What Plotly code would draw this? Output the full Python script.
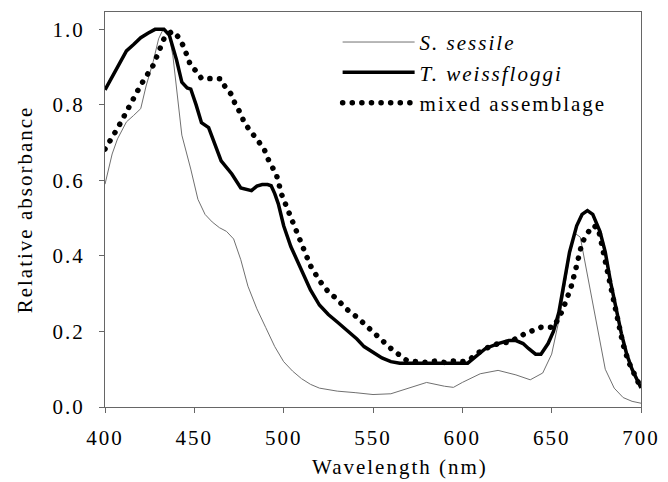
import plotly.graph_objects as go

# ── Data ──────────────────────────────────────────────────────────────────────

sessile_nm = [400, 404, 407, 412, 416, 420, 423, 427, 430, 432, 434, 436, 438, 440,
              443, 448, 452, 456, 460, 464, 468, 472, 476, 480, 485, 490, 495, 500,
              505, 510, 515, 520, 530, 540, 550, 560, 570, 580, 590, 595, 600, 610,
              620, 630, 638, 645, 650, 655, 660, 663, 666, 670, 675, 680, 685, 690,
              695, 700]
sessile_abs = [0.59, 0.67, 0.71, 0.755, 0.772, 0.79, 0.85, 0.915, 0.975, 0.995, 1.0, 0.98,
               0.93, 0.84, 0.72, 0.63, 0.55, 0.51, 0.49, 0.475, 0.465, 0.445, 0.39,
               0.32, 0.26, 0.21, 0.16, 0.12, 0.095, 0.075, 0.06, 0.05, 0.042, 0.038,
               0.033, 0.035, 0.05, 0.065, 0.055, 0.052, 0.065, 0.088, 0.097, 0.085,
               0.072, 0.09, 0.14, 0.25, 0.40, 0.46, 0.45, 0.35, 0.22, 0.10, 0.05,
               0.025, 0.015, 0.01]

weiss_nm = [400, 404, 408, 412, 416, 420, 424, 428, 433, 436, 440, 443, 446, 448, 451,
            454, 458, 462, 465, 471, 476, 482, 485, 488, 491, 493, 495, 497, 500, 504,
            510, 515, 520, 525, 530, 535, 541, 545, 550, 555, 560, 565, 603, 608, 613,
            620, 626, 630, 634, 637, 641, 644, 648, 651, 654, 657, 660, 664, 667, 670,
            673, 677, 680, 683, 686, 689, 692, 695, 698, 700]
weiss_abs = [0.84, 0.875, 0.91, 0.943, 0.96, 0.978, 0.99, 1.0, 1.0, 0.985, 0.92, 0.86,
             0.845, 0.842, 0.80, 0.753, 0.74, 0.69, 0.652, 0.617, 0.58, 0.573, 0.585,
             0.589, 0.589, 0.586, 0.565, 0.538, 0.48, 0.425, 0.365, 0.31, 0.27, 0.245,
             0.225, 0.205, 0.18, 0.16, 0.145, 0.13, 0.12, 0.116, 0.116, 0.135, 0.155,
             0.168, 0.176, 0.176, 0.168, 0.155, 0.14, 0.14, 0.168, 0.20, 0.25, 0.33,
             0.41, 0.48, 0.51, 0.52, 0.51, 0.465, 0.41, 0.33, 0.26, 0.195, 0.14, 0.10,
             0.07, 0.05]

mixed_nm = [400, 403, 406, 409, 412, 415, 418, 421, 424, 427, 430, 433, 436, 438, 441,
            444, 448, 451, 454, 458, 462, 465, 467, 471, 473, 476, 478, 482, 485, 489,
            491, 493, 496, 499, 501, 503, 505, 508, 511, 515, 520, 525, 530, 535, 541,
            547, 552, 556, 560, 565, 569, 575, 580, 585, 590, 595, 600, 604, 608, 613,
            620, 627, 631, 637, 644, 651, 655, 658, 661, 664, 667, 670, 673, 676, 678,
            680, 682, 685, 687, 690, 693, 696, 700]
mixed_abs = [0.683, 0.71, 0.73, 0.755, 0.784, 0.81, 0.835, 0.86, 0.885, 0.905, 0.94, 0.975,
             0.99, 0.995, 0.98, 0.955, 0.903, 0.89, 0.87, 0.87, 0.871, 0.869, 0.85,
             0.826, 0.80, 0.777, 0.752, 0.729, 0.707, 0.684, 0.659, 0.639, 0.614, 0.561,
             0.537, 0.513, 0.489, 0.455, 0.419, 0.374, 0.335, 0.305, 0.285, 0.26, 0.238,
             0.212, 0.19, 0.17, 0.155, 0.137, 0.123, 0.12, 0.118, 0.122, 0.118, 0.122,
             0.12, 0.125, 0.141, 0.155, 0.168, 0.172, 0.185, 0.198, 0.211, 0.211,
             0.245, 0.28, 0.32, 0.375, 0.435, 0.46, 0.48, 0.475, 0.43, 0.39, 0.345,
             0.27, 0.225, 0.165, 0.12, 0.089, 0.05]

series_names = ["<i>S. sessile</i>", "<i>T. weissfloggi</i>", "mixed assemblage"]

x_ticks = [400, 450, 500, 550, 600, 650, 700]
y_ticks = [0.0, 0.2, 0.4, 0.6, 0.8, 1.0]

FONT = "Liberation Serif"
FS = 21

# ── Figure ────────────────────────────────────────────────────────────────────

fig = go.Figure()
fig.add_trace(go.Scatter(x=sessile_nm, y=sessile_abs, mode="lines", name=series_names[0],
                         legendgroup="a", line=dict(color="#707070", width=1)))
fig.add_trace(go.Scatter(x=weiss_nm, y=weiss_abs, mode="lines", name=series_names[1],
                         legendgroup="b", line=dict(color="black", width=3.5)))
fig.add_trace(go.Scatter(x=mixed_nm, y=mixed_abs, mode="lines", name=series_names[2],
                         legendgroup="c",
                         line=dict(color="black", width=5.5, dash="0.1px,9.5px")))

axis_common = dict(
    showline=True, linecolor="#666", linewidth=1, mirror=True,
    ticks="outside", ticklen=5, tickcolor="#666", showgrid=False, zeroline=False,
    tickfont=dict(family=FONT, size=FS, color="black"),
)

fig.update_layout(
    width=668, height=482,
    margin=dict(l=105, r=21, t=11, b=75),
    plot_bgcolor="white", paper_bgcolor="white",
    font=dict(family=FONT, size=FS, color="black"),
    xaxis=dict(range=[400, 700], tickvals=x_ticks, ticklabelstandoff=7, **axis_common),
    yaxis=dict(range=[0, 1.046], tickvals=y_ticks, tickformat=".1f",
               ticklabelstandoff=10,
               title=dict(text="Relative absorbance", standoff=20,
                          font=dict(family=FONT, size=FS)),
               **axis_common),
    legend=dict(x=0.434, y=0.975, xanchor="left", yanchor="top",
                bgcolor="rgba(0,0,0,0)", tracegroupgap=0, itemwidth=72,
                font=dict(family=FONT, size=FS, color="black")),
    annotations=[dict(text="Wavelength (nm)", x=0.55, y=0, xref="paper", yref="paper",
                      yshift=-60, yanchor="middle", showarrow=False,
                      font=dict(family=FONT, size=FS, color="black"))],
)

# no page margin, so the 668x482 figure fills the window exactly;
# round caps turn the dash pattern of the mixed-assemblage line into real dots;
# the reference text is set a little wide, so open up the letter spacing too
# (and widen the legend clip box so the wider text is not cut)
post = """
document.body.style.margin = '0';
var lines = document.querySelectorAll('.scatterlayer .trace path.js-line');
if (lines.length > 2) lines[2].style.strokeLinecap = 'round';
var leg = document.querySelectorAll('.legend .traces path.js-line');
if (leg.length > 2) leg[2].style.strokeLinecap = 'round';
document.querySelectorAll('.main-svg text').forEach(function (t) {
  t.style.letterSpacing = '2px';
});
document.querySelectorAll('clipPath[id*="legend"] rect').forEach(function (r) {
  var w = parseFloat(r.getAttribute('width')) || 0;
  r.setAttribute('width', w + 60);
});
"""

fig.write_html("out.html", post_script=post, config={"displayModeBar": False})
